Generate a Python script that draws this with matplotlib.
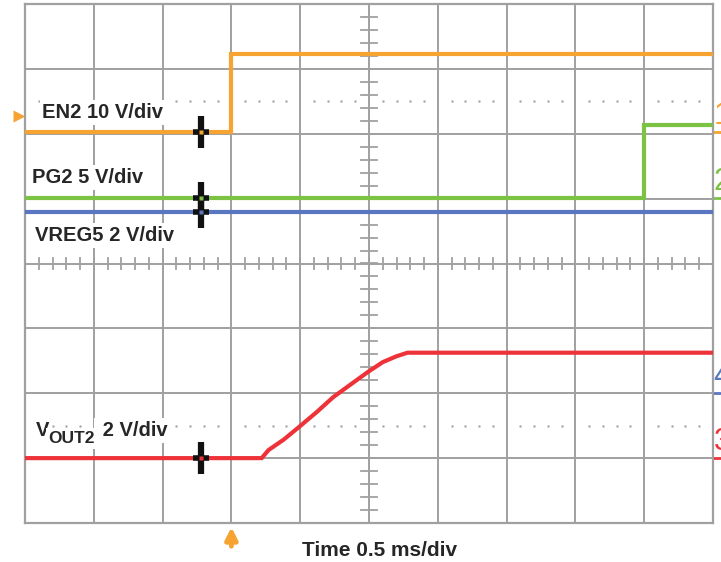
import numpy as np
import matplotlib.pyplot as plt

plt.rcParams['font.family'] = ['Liberation Sans', 'DejaVu Sans']

# Scope settings: 0.5 ms/div, 10 x 8 divisions, trigger at t = 0
t_start, t_end = -1.5, 3.5
ms_per_div = 0.5

# Trace data (time in ms, value in V)
en2_t = [-1.5, 0.0, 0.0, 3.5]
en2_v = [0.0, 0.0, 12.0, 12.0]
pg2_t = [-1.5, 3.0, 3.0, 3.5]
pg2_v = [0.0, 0.0, 5.6, 5.6]
vreg5_t = [-1.5, 3.5]
vreg5_v = [5.6, 5.6]
vout2_t = [-1.5, 0.22, 0.27, 0.38, 0.50, 0.62, 0.74, 0.86, 0.99, 1.10, 1.20, 1.28, 3.5]
vout2_v = [0.0, 0.0, 0.25, 0.57, 0.99, 1.42, 1.88, 2.25, 2.65, 2.96, 3.14, 3.25, 3.25]

# channel: (scale V/div, ground position in div, colour, marker number)
channels = {
    'EN2': (10, 2.03, '#f6a332', '1'),
    'PG2': (5, 1.01, '#7cc243', '2'),
    'VREG5': (2, -2.0, '#5877c0', '4'),
    'VOUT2': (2, -3.0, '#ee3239', '3'),
}
traces = {'EN2': (en2_t, en2_v), 'PG2': (pg2_t, pg2_v),
          'VREG5': (vreg5_t, vreg5_v), 'VOUT2': (vout2_t, vout2_v)}
labels = {'EN2': ('EN2 10 V/div', -1.374, 2.24),
          'PG2': ('PG2 5 V/div', -1.446, 1.24),
          'VREG5': ('VREG5 2 V/div', -1.424, 0.35)}
cursor_t = -0.22

fig = plt.figure(figsize=(7.21, 5.62), dpi=100)
ax = fig.add_axes([25 / 721, 39 / 562, 688 / 721, 519 / 562])
ax.set_xlim(t_start, t_end)
ax.set_ylim(-4, 4)

grid_col = '#a0a0a0'
ax.set_xticks(np.arange(t_start, t_end + 0.01, ms_per_div))
ax.set_yticks(np.arange(-4, 5, 1))
ax.tick_params(length=0, labelbottom=False, labelleft=False)
ax.grid(True, color=grid_col, lw=1.4)
for s in ax.spines.values():
    s.set_color(grid_col)
    s.set_linewidth(1.6)

# centre cross minor ticks
t_mid = (t_start + t_end) / 2
minor_t = np.arange(t_start, t_end + 0.001, 0.1)
minor_y = np.arange(-4, 4.001, 0.2)
for t in minor_t:
    ax.plot([t, t], [-0.08, 0.08], color=grid_col, lw=1.3, zorder=1)
for y in minor_y:
    ax.plot([t_mid - 0.06, t_mid + 0.06], [y, y], color=grid_col, lw=1.3, zorder=1)

# dotted reference rows
dots = [t for t in minor_t if abs(t / 0.5 - round(t / 0.5)) > 0.01]
for y in (2.5, -2.5):
    ax.plot(dots, [y] * len(dots), ls='none', marker='s', ms=1.5,
            color='#9a9a9a', mec='none', zorder=1)

txt_kw = dict(fontsize=14.5, fontweight='bold', color='#262626', zorder=3)
box = dict(facecolor='white', edgecolor='none', pad=2)

# traces
for name, (t, v) in traces.items():
    scale, off, col, num = channels[name]
    y = off + np.array(v) / scale
    ax.plot(t, y, color=col, lw=3, zorder=4, solid_joinstyle='miter')
    if name in labels:
        lab, lx, ly = labels[name]
        ax.text(lx, ly, lab, va='baseline', ha='left', bbox=box, **txt_kw)
    # channel ground marker on the right edge
    ax.text(t_end + 0.005, off + 0.02, num, fontsize=22, color=col,
            va='bottom', ha='left', clip_on=False)
    ax.plot([t_end, t_end + 0.06], [off, off], color=col, lw=2, clip_on=False)
    # cursor marker
    ax.plot(cursor_t, y[0], marker='|', ms=23, mew=4.5, color='#111111', zorder=5)
    ax.plot(cursor_t, y[0], marker='_', ms=11, mew=4, color='#111111', zorder=5)
    ax.plot(cursor_t, y[0], marker='s', ms=3, color=col, mec='none', zorder=6)

# VOUT2 label with a large subscript
v_txt = ax.text(-1.42, -2.66, 'V', va='baseline', ha='left', bbox=box, **txt_kw)
sub_txt = ax.annotate('OUT2', xy=(1, 0), xycoords=v_txt, xytext=(-0.5, -2),
                      textcoords='offset points', va='baseline', ha='left',
                      bbox=box, annotation_clip=False, **dict(txt_kw, fontsize=12.5))
ax.annotate(' 2 V/div', xy=(1, 0), xycoords=(sub_txt, v_txt), xytext=(1, 0),
            textcoords='offset points', va='bottom', ha='left', bbox=box,
            annotation_clip=False, **txt_kw)

# trigger markers
ax.plot(t_start - 0.045, 2.27, marker='>', ms=9, color='#f6a332', mec='none', clip_on=False)
ax.annotate('', xy=(0, -4.02), xytext=(0, -4.4), annotation_clip=False,
            arrowprops=dict(arrowstyle='-|>,head_width=0.35,head_length=0.7',
                            color='#f6a332', lw=3.5))

fig.text(380 / 721, 1 - 556 / 562, 'Time 0.5 ms/div', fontsize=15, fontweight='bold',
         color='#262626', ha='center', va='baseline')

fig.savefig('out.png', dpi=100)
